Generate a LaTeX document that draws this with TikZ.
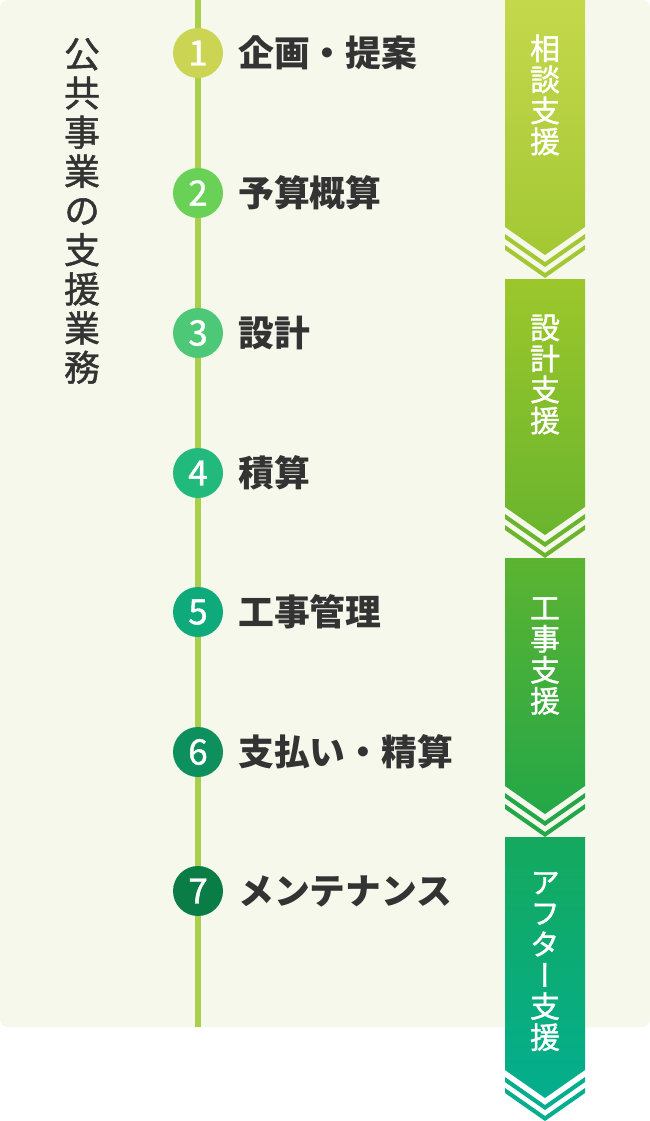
\documentclass[tikz,border=0pt]{standalone}
\usepackage{fontspec}
\newfontfamily\jp{Noto Sans CJK JP}
\newfontfamily\jpn[FakeBold=1.2]{Noto Sans CJK JP}
\newfontfamily\jpv[RawFeature=+vert,FakeBold=1.3]{Noto Sans CJK JP}
\definecolor{panel}{HTML}{F6F8EC}
\definecolor{linec}{HTML}{A9CF4B}
\definecolor{txt}{HTML}{333333}
\definecolor{ca}{HTML}{CCD553}
\definecolor{cb}{HTML}{69D155}
\definecolor{cc}{HTML}{4DC877}
\definecolor{cd}{HTML}{22B97C}
\definecolor{ce}{HTML}{0FAA7C}
\definecolor{cf}{HTML}{0D8F5E}
\definecolor{cg}{HTML}{0A7D47}
\definecolor{raT}{HTML}{C5D84C}
\definecolor{raB}{HTML}{A3C834}
\definecolor{rbT}{HTML}{9CC72C}
\definecolor{rbB}{HTML}{6AB52D}
\definecolor{rcT}{HTML}{5CB431}
\definecolor{rcB}{HTML}{24A748}
\definecolor{rdT}{HTML}{14A95E}
\definecolor{rdB}{HTML}{03AE8E}
\newcommand\myribbon[4]{%
  \shade[top color=#3,bottom color=#4] (505,#1) -- (585,#1) -- (585,#2) -- (545,{#2+28}) -- (505,#2) -- cycle;
  \fill[#4] (505,{#2+7}) -- (545,{#2+35}) -- (585,{#2+7}) -- (585,{#2+12}) -- (545,{#2+40}) -- (505,{#2+12}) -- cycle;
  \fill[#4] (505,{#2+18}) -- (545,{#2+46}) -- (585,{#2+18}) -- (585,{#2+23}) -- (545,{#2+51}) -- (505,{#2+23}) -- cycle;
}
\tikzset{
  num/.style={circle,minimum size=50pt,inner sep=0pt,text=white,font=\jpn\fontsize{35}{35}\selectfont},
  lbl/.style={anchor=west,inner sep=0pt,text=txt,font=\jp\bfseries\fontsize{35.8}{36}\selectfont},
  rtext/.style={inner sep=0pt,align=center,text=white,font=\jpv\fontsize{30}{31}\selectfont},
  ttext/.style={inner sep=0pt,align=center,text=txt,font=\jpv\fontsize{36}{39.2}\selectfont}
}
\begin{document}
\begin{tikzpicture}[x=1pt,y=-1pt]
\useasboundingbox (0,0) rectangle (650,1121);
\fill[white] (0,0) rectangle (650,1121);
\fill[panel,rounded corners=8pt] (0,0) rectangle (650,1027);
\coordinate (ltop) at (198,0);
\coordinate (lbot) at (198,1027);
\draw[linec,line width=6pt] (ltop) -- (lbot);
\node[ttext] (title) at (82,211) {公\\共\\事\\業\\の\\支\\援\\業\\務};
\node[num,fill=ca] (n1) at (198,53) {1};
\node[num,fill=cb] (n2) at (198,193) {2};
\node[num,fill=cc] (n3) at (198,333) {3};
\node[num,fill=cd] (n4) at (198,473) {4};
\node[num,fill=ce] (n5) at (198,612) {5};
\node[num,fill=cf] (n6) at (198,752) {6};
\node[num,fill=cg] (n7) at (198,891) {7};
\node[lbl] (l1) at (238,53) {企画・提案};
\node[lbl] (l2) at (238,193) {予算概算};
\node[lbl] (l3) at (238,333) {設計};
\node[lbl] (l4) at (238,473) {積算};
\node[lbl] (l5) at (238,612) {工事管理};
\node[lbl] (l6) at (238,752) {支払い・精算};
\node[lbl] (l7) at (238,891) {メンテナンス};
\myribbon{-1}{227}{raT}{raB}
\myribbon{279}{507}{rbT}{rbB}
\myribbon{558}{786}{rcT}{rcB}
\myribbon{837}{1070}{rdT}{rdB}
\node[rtext] (r1) at (545,95) {相\\談\\支\\援};
\node[rtext] (r2) at (545,374.5) {設\\計\\支\\援};
\node[rtext] (r3) at (545,656) {工\\事\\支\\援};
\node[rtext] (r4) at (545,961.5) {ア\\フ\\タ\\ー\\支\\援};
\end{tikzpicture}
\end{document}
